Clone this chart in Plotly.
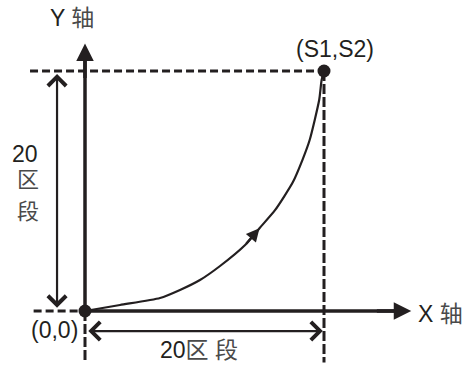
import plotly.graph_objects as go

# Diagram data, in "segments" (区段)
SEGMENTS = 20
origin = [0, 0]
end_point = [20, 20]
curve_x = [0, 2.93, 6.28, 7.95, 9.62, 11.3, 13.4, 14.6, 15.9, 17.4, 18.2, 18.8, 19.6, 19.8, 20]
curve_y = [0, 0.5, 1.08, 1.75, 2.58, 3.75, 5.5, 6.9, 8.4, 10.75, 12.6, 14.25, 17.6, 19.25, 20]
axis_tip_x = 27.3
axis_tip_y = 22.3

INK = "#231f20"
CJK = "#4a4a4a"
LATIN = "Arial, Liberation Sans, Noto Sans CJK SC"
DASH_H = "8px,4px"
DASH_V = "10px,3px"

fig = go.Figure()


def guide(xs, ys, dash):
    fig.add_trace(go.Scatter(x=xs, y=ys, mode="lines", hoverinfo="skip",
                             line=dict(color=INK, width=3, dash=dash)))


# dashed guides through the end point and below the origin
guide([-4.6, end_point[0]], [end_point[1], end_point[1]], DASH_H)
guide([-4.3, origin[0]], [origin[1], origin[1]], DASH_H)
guide([end_point[0], end_point[0]], [end_point[1], -4.3], DASH_V)
guide([origin[0], origin[0]], [origin[1], -4.3], DASH_V)

# solid axes
fig.add_trace(go.Scatter(x=[origin[0], axis_tip_x - 1], y=[0, 0], mode="lines",
                         hoverinfo="skip", line=dict(color=INK, width=3.5)))
fig.add_trace(go.Scatter(x=[0, 0], y=[origin[1], axis_tip_y - 1], mode="lines",
                         hoverinfo="skip", line=dict(color=INK, width=3.5)))

# the path curve
fig.add_trace(go.Scatter(x=curve_x, y=curve_y, mode="lines", hoverinfo="skip",
                         line=dict(color=INK, width=2.2, shape="spline", smoothing=0.6)))

# end dots
fig.add_trace(go.Scatter(x=[origin[0], end_point[0]], y=[origin[1], end_point[1]],
                         mode="markers", hoverinfo="skip",
                         marker=dict(color=INK, size=13)))


def arrow(x, y, ax, ay, width, head, size, both=False):
    fig.add_annotation(x=x, y=y, ax=ax, ay=ay, xref="x", yref="y", axref="x", ayref="y",
                       text="", showarrow=True, arrowcolor=INK, arrowwidth=width,
                       arrowhead=head, arrowsize=size,
                       startarrowhead=head, startarrowsize=size,
                       arrowside="end+start" if both else "end")


# axis arrowheads
arrow(axis_tip_x, 0, axis_tip_x - 3, 0, 3.5, 2, 1.0)
arrow(0, axis_tip_y, 0, axis_tip_y - 3, 3.5, 2, 1.0)
# arrow on the curve
arrow(curve_x[7], curve_y[7], curve_x[6], curve_y[6], 2.2, 2, 1.2)
# dimension arrows
arrow(-2.34, end_point[1] - 0.25, -2.34, origin[1] + 0.15, 2.2, 4, 1.6, both=True)
arrow(end_point[0] - 0.1, -1.67, origin[0] + 0.15, -1.67, 2.2, 4, 1.6, both=True)


def label(x, y, text, size=23):
    fig.add_annotation(x=x, y=y, xref="x", yref="y", text=text, showarrow=False,
                       font=dict(family=LATIN, size=size, color=INK))


def cjk(s):
    return f'<span style="color:{CJK}">{s}</span>'


label(-1.09, 24.42, "Y " + cjk("轴"))
label(20.88, 21.83, "(S1,S2)")
label(-2.55, -1.58, "(0,0)")
label(29.75, -0.25, "X " + cjk("轴"))
label(9.54, -3.25, f"{SEGMENTS}" + cjk("区 段"))
label(-5.02, 13.08, f"{SEGMENTS}")
label(-4.77, 11.0, cjk("区"), size=22)
label(-4.77, 8.33, cjk("段"), size=22)

fig.update_layout(
    width=469, height=370, margin=dict(l=0, r=0, t=0, b=0),
    paper_bgcolor="white", plot_bgcolor="white", showlegend=False,
    xaxis=dict(range=[-85 / 11.95, 384 / 11.95], visible=False, fixedrange=True),
    yaxis=dict(range=[-59 / 12, 311 / 12], visible=False, fixedrange=True),
)

fig.write_html("out.html", config={"displayModeBar": False},
               post_script="document.body.style.margin='0';")
